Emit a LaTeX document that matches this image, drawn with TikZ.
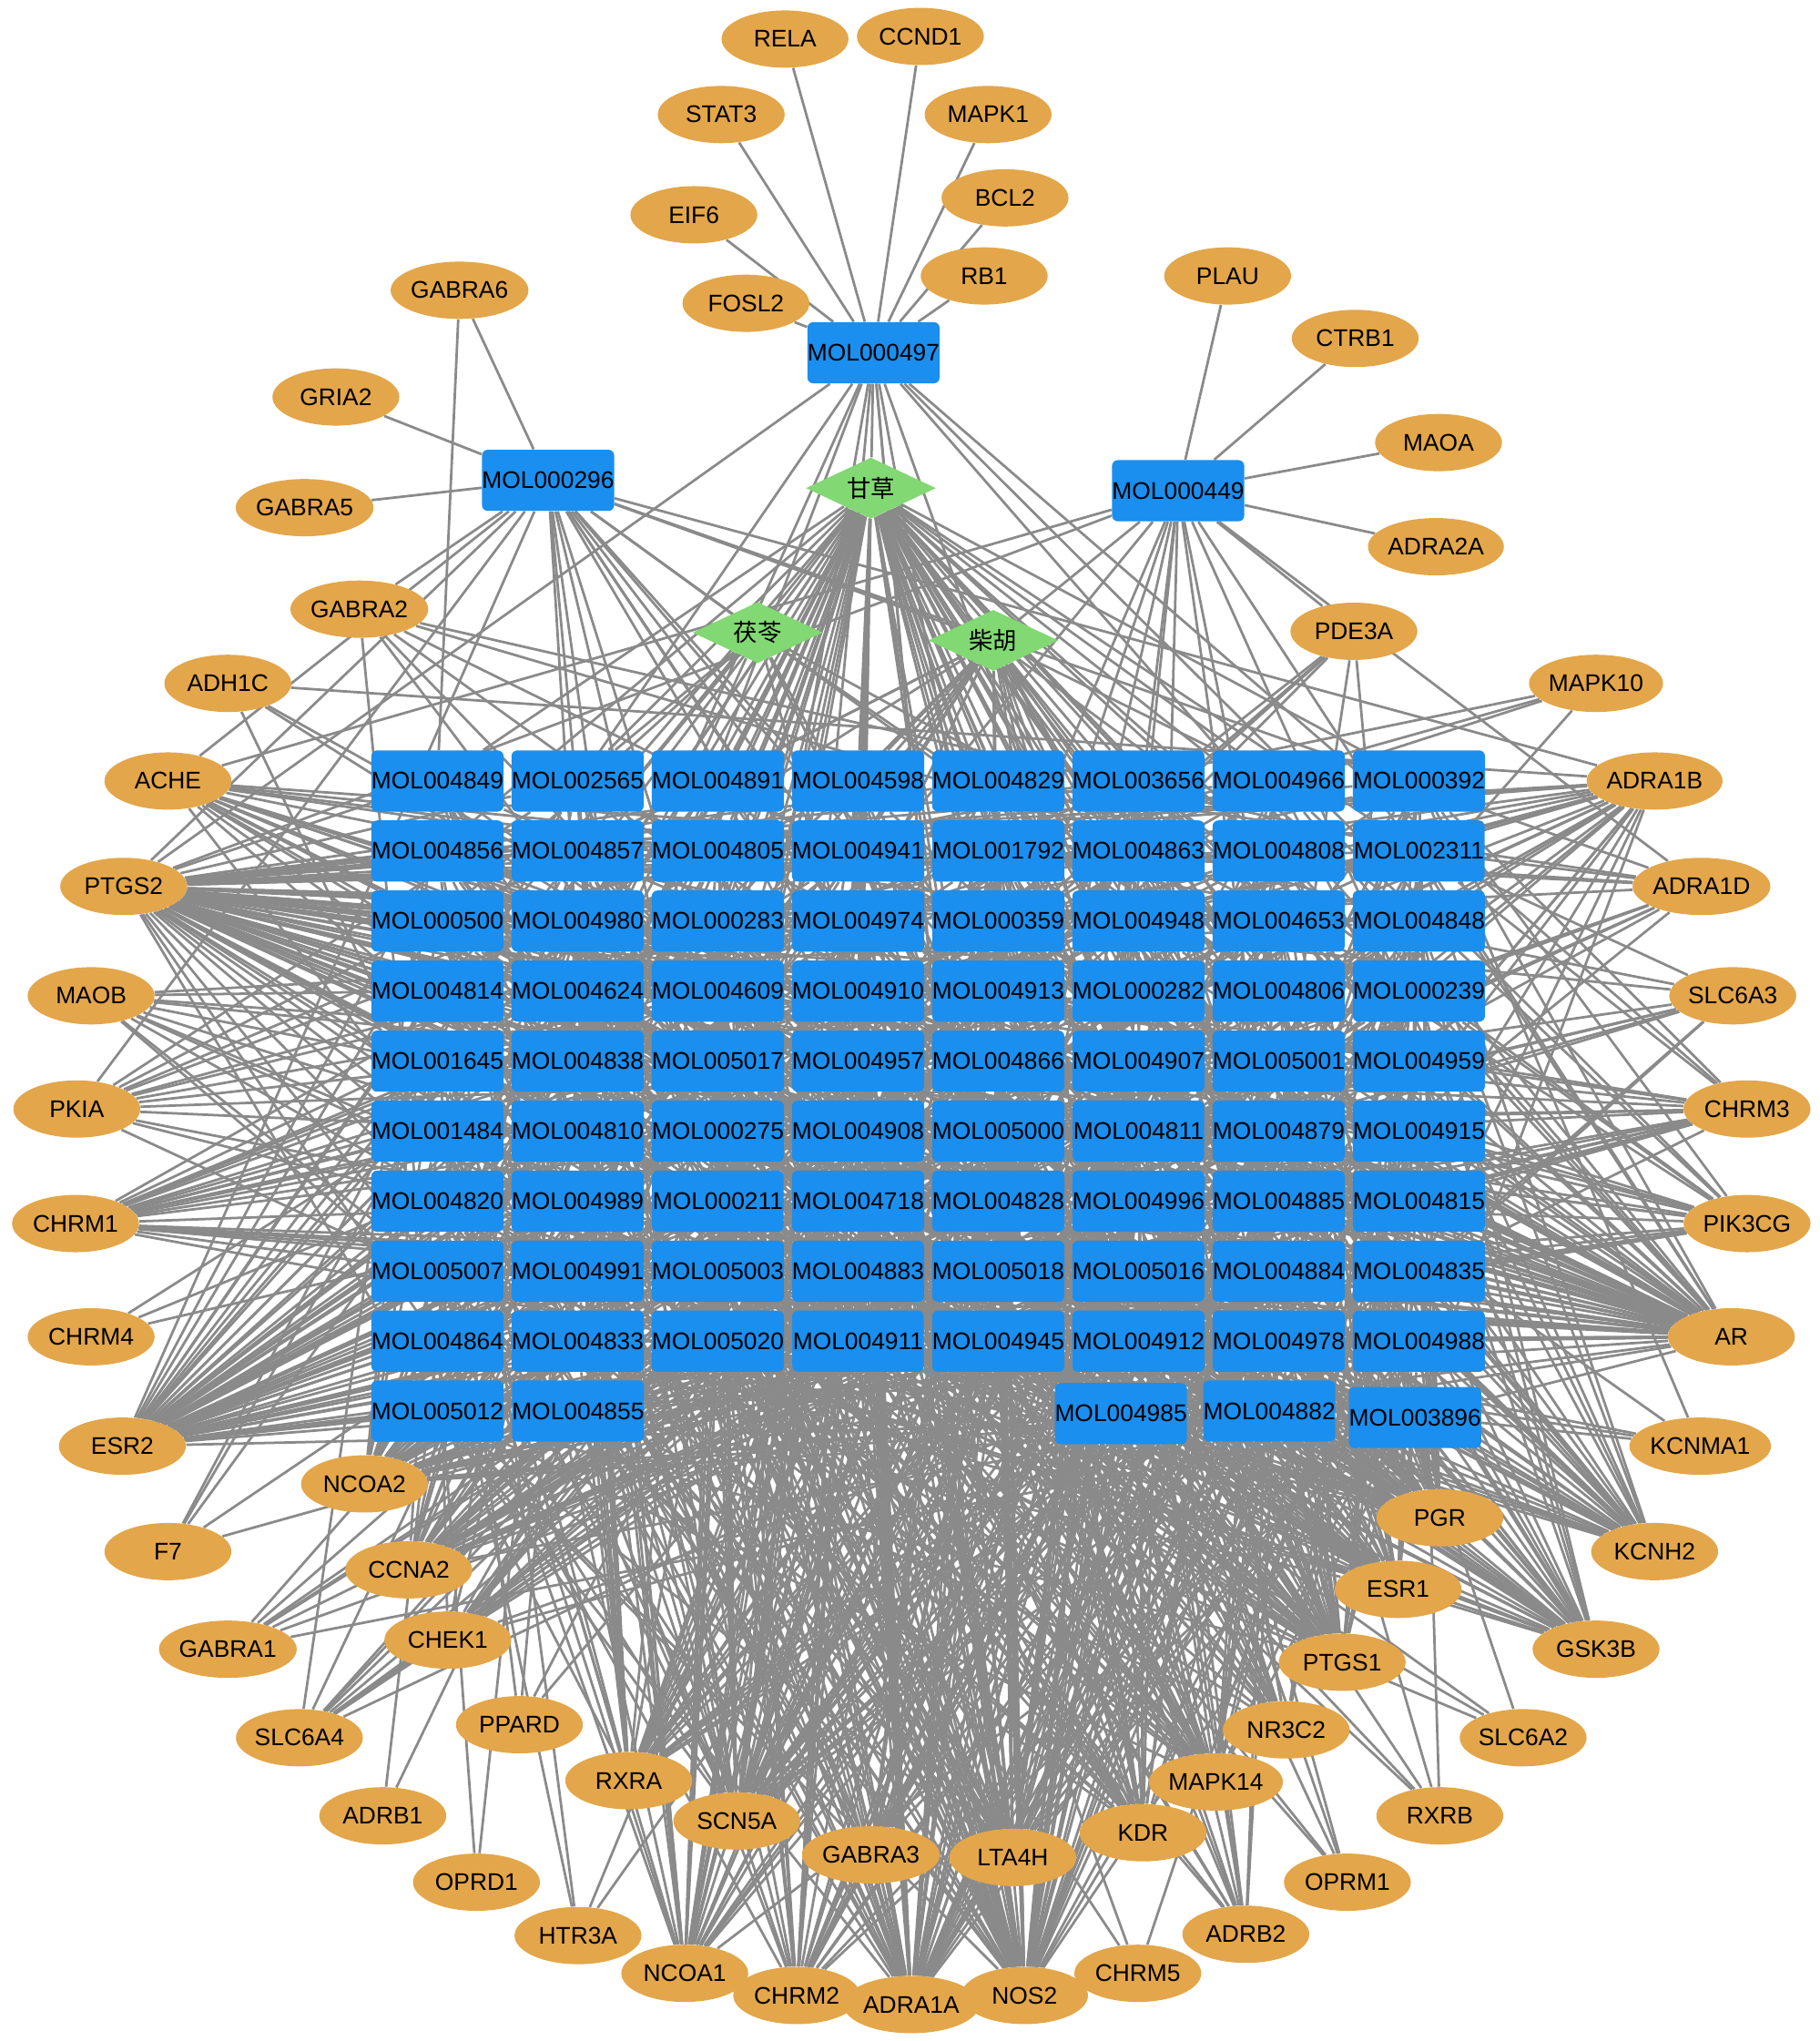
\documentclass[tikz,border=0pt]{standalone}
\usepackage{fontspec}
\setmainfont{Liberation Sans}
\newfontfamily\cjk{Noto Sans CJK SC}
\usepackage{tikz}
\usetikzlibrary{shapes.geometric,backgrounds}
\definecolor{tgtorange}{HTML}{E3A64A}
\definecolor{molblue}{HTML}{1A8FEF}
\definecolor{herbgreen}{HTML}{82D872}
\definecolor{edgegray}{HTML}{8A8A8A}

% compound grid, row by row
\def\gridrows{%
  {MOL004849,MOL002565,MOL004891,MOL004598,MOL004829,MOL003656,MOL004966,MOL000392},%
  {MOL004856,MOL004857,MOL004805,MOL004941,MOL001792,MOL004863,MOL004808,MOL002311},%
  {MOL000500,MOL004980,MOL000283,MOL004974,MOL000359,MOL004948,MOL004653,MOL004848},%
  {MOL004814,MOL004624,MOL004609,MOL004910,MOL004913,MOL000282,MOL004806,MOL000239},%
  {MOL001645,MOL004838,MOL005017,MOL004957,MOL004866,MOL004907,MOL005001,MOL004959},%
  {MOL001484,MOL004810,MOL000275,MOL004908,MOL005000,MOL004811,MOL004879,MOL004915},%
  {MOL004820,MOL004989,MOL000211,MOL004718,MOL004828,MOL004996,MOL004885,MOL004815},%
  {MOL005007,MOL004991,MOL005003,MOL004883,MOL005018,MOL005016,MOL004884,MOL004835},%
  {MOL004864,MOL004833,MOL005020,MOL004911,MOL004945,MOL004912,MOL004978,MOL004988}}
\def\extramols{MOL005012,MOL004855,MOL004985,MOL004882,MOL003896,MOL000497,MOL000296,MOL000449}
\newcommand\randlink[3]{\pgfmathsetmacro\rval{rnd}\ifdim\rval pt<#3pt\draw[link] (#1) -- (#2);\fi}

\begin{document}
\begin{tikzpicture}[x=0.02cm, y=-0.02cm,
  target/.style={ellipse, fill=tgtorange, minimum width=1.95cm, minimum height=0.88cm, inner sep=0pt, font=\fontsize{10.5}{12}\selectfont},
  mol/.style={rectangle, rounded corners=2.5pt, fill=molblue, minimum width=2.02cm, minimum height=0.94cm, inner sep=0pt, font=\fontsize{10.5}{12}\selectfont},
  herb/.style={diamond, fill=herbgreen, aspect=2.1, minimum width=2cm, minimum height=0.94cm, inner sep=0pt, font=\cjk\fontsize{10.5}{12}\selectfont},
  link/.style={draw=edgegray, line width=1.1pt}]
  \useasboundingbox (0,0) rectangle (1398,1568);

  % top hubs and herbs
  \node[mol] (MOL000497) at (671,271) {MOL000497};
  \node[mol] (MOL000296) at (421,369) {MOL000296};
  \node[mol] (MOL000449) at (905,377) {MOL000449};
  \node[herb] (gancao) at (669,375) {甘草};
  \node[herb] (fuling) at (582,486) {茯苓};
  \node[herb] (chaihu) at (763,492) {柴胡};

  % compound grid
  \foreach \row [count=\rw] in \gridrows {
    \foreach \m [count=\cl] in \row
      \node[mol] (\m) at ({228.3+107.7*\cl},{546.2+53.8*\rw}) {\m};
  }
  \node[mol] (MOL005012) at (336,1084) {MOL005012};
  \node[mol] (MOL004855) at (444,1084) {MOL004855};
  \node[mol] (MOL004985) at (861,1086) {MOL004985};
  \node[mol] (MOL004882) at (975,1084) {MOL004882};
  \node[mol] (MOL003896) at (1087,1089) {MOL003896};

  % targets, top
  \node[target] (RELA) at (603,30) {RELA};
  \node[target] (CCND1) at (707,28) {CCND1};
  \node[target] (STAT3) at (554,88) {STAT3};
  \node[target] (MAPK1) at (759,88) {MAPK1};
  \node[target] (EIF6) at (533,165) {EIF6};
  \node[target] (BCL2) at (772,152) {BCL2};
  \node[target] (RB1) at (756,212) {RB1};
  \node[target] (FOSL2) at (573,233) {FOSL2};
  \node[target] (GABRA6) at (353,223) {GABRA6};
  \node[target] (GRIA2) at (258,305) {GRIA2};
  \node[target] (GABRA5) at (234,390) {GABRA5};
  \node[target] (GABRA2) at (276,468) {GABRA2};
  \node[target] (ADH1C) at (175,525) {ADH1C};
  \node[target] (PLAU) at (943,212) {PLAU};
  \node[target] (CTRB1) at (1041,260) {CTRB1};
  \node[target] (MAOA) at (1105,340) {MAOA};
  \node[target] (ADRA2A) at (1103,420) {ADRA2A};
  \node[target] (PDE3A) at (1040,485) {PDE3A};
  \node[target] (MAPK10) at (1226,525) {MAPK10};

  % targets, outer ring
  \node[target] (ACHE) at (129,600) {ACHE};
  \node[target] (PTGS2) at (95,681) {PTGS2};
  \node[target] (MAOB) at (70,765) {MAOB};
  \node[target] (PKIA) at (59,852) {PKIA};
  \node[target] (CHRM1) at (58,940) {CHRM1};
  \node[target] (CHRM4) at (70,1027) {CHRM4};
  \node[target] (ESR2) at (94,1111) {ESR2};
  \node[target] (F7) at (129,1192) {F7};
  \node[target] (GABRA1) at (175,1267) {GABRA1};
  \node[target] (SLC6A4) at (230,1335) {SLC6A4};
  \node[target] (ADRB1) at (294,1395) {ADRB1};
  \node[target] (OPRD1) at (366,1446) {OPRD1};
  \node[target] (HTR3A) at (444,1487) {HTR3A};
  \node[target] (NCOA1) at (526,1516) {NCOA1};
  \node[target] (CHRM2) at (612,1533) {CHRM2};
  \node[target] (ADRA1A) at (700,1540) {ADRA1A};
  \node[target] (NOS2) at (787,1533) {NOS2};
  \node[target] (CHRM5) at (874,1516) {CHRM5};
  \node[target] (ADRB2) at (957,1486) {ADRB2};
  \node[target] (OPRM1) at (1035,1446) {OPRM1};
  \node[target] (RXRB) at (1106,1395) {RXRB};
  \node[target] (SLC6A2) at (1170,1335) {SLC6A2};
  \node[target] (GSK3B) at (1226,1267) {GSK3B};
  \node[target] (KCNH2) at (1271,1192) {KCNH2};
  \node[target] (KCNMA1) at (1306,1111) {KCNMA1};
  \node[target] (AR) at (1330,1027) {AR};
  \node[target] (PIK3CG) at (1342,940) {PIK3CG};
  \node[target] (CHRM3) at (1342,852) {CHRM3};
  \node[target] (SLC6A3) at (1331,765) {SLC6A3};
  \node[target] (ADRA1D) at (1307,681) {ADRA1D};
  \node[target] (ADRA1B) at (1271,600) {ADRA1B};

  % targets, inner ring
  \node[target] (NCOA2) at (280,1140) {NCOA2};
  \node[target] (CCNA2) at (314,1206) {CCNA2};
  \node[target] (CHEK1) at (344,1260) {CHEK1};
  \node[target] (PPARD) at (399,1325) {PPARD};
  \node[target] (RXRA) at (483,1368) {RXRA};
  \node[target] (SCN5A) at (566,1399) {SCN5A};
  \node[target] (GABRA3) at (669,1425) {GABRA3};
  \node[target] (LTA4H) at (778,1427) {LTA4H};
  \node[target] (KDR) at (878,1408) {KDR};
  \node[target] (MAPK14) at (934,1369) {MAPK14};
  \node[target] (NR3C2) at (988,1329) {NR3C2};
  \node[target] (PTGS1) at (1031,1277) {PTGS1};
  \node[target] (ESR1) at (1074,1221) {ESR1};
  \node[target] (PGR) at (1106,1166) {PGR};

  \begin{pgfonlayer}{background}
    \foreach \t in {RELA,CCND1,STAT3,MAPK1,EIF6,BCL2,RB1,FOSL2}
      \draw[link] (MOL000497) -- (\t);
    \foreach \t in {GABRA6,GRIA2,GABRA5,GABRA2}
      \draw[link] (MOL000296) -- (\t);
    \foreach \t in {PLAU,CTRB1,MAOA,ADRA2A,PDE3A}
      \draw[link] (MOL000449) -- (\t);
    \draw[link] (GABRA6) -- (MOL004849);
    \draw[link] (ADRB1) -- (MOL004855);
    \draw[link] (ADRB1) -- (MOL004864);
    \draw[link] (ADH1C) -- (ADRA1B);
    \draw[link] (gancao) -- (MOL000497);
    \draw[link] (fuling) -- (MOL000296);
    \draw[link] (chaihu) -- (MOL000296);
    \draw[link] (chaihu) -- (MOL000449);

    \pgfmathsetseed{11}
    % herbs to compounds
    \foreach \row in \gridrows {
      \foreach \m in \row {
        \randlink{\m}{gancao}{0.85}
        \randlink{\m}{fuling}{0.15}
        \randlink{\m}{chaihu}{0.25}
      }
    }
    \foreach \m in {MOL005012,MOL004855,MOL004985,MOL004882,MOL003896} {
      \randlink{\m}{gancao}{0.85}
      \randlink{\m}{chaihu}{0.25}
    }

    % compounds to targets
    \foreach \t/\p in {ACHE/0.28,PTGS2/0.9,MAOB/0.16,PKIA/0.12,CHRM1/0.34,CHRM4/0.03,
        ESR2/0.75,F7/0.08,GABRA1/0.07,SLC6A4/0.08,ADRB1/0.03,OPRD1/0.04,HTR3A/0.04,
        NCOA1/0.4,CHRM2/0.35,ADRA1A/0.6,NOS2/0.8,CHRM5/0.07,ADRB2/0.26,OPRM1/0.07,
        RXRB/0.05,SLC6A2/0.04,GSK3B/0.42,KCNH2/0.48,KCNMA1/0.1,AR/0.72,PIK3CG/0.34,
        CHRM3/0.2,SLC6A3/0.16,ADRA1D/0.16,ADRA1B/0.34,MAPK10/0.05,PDE3A/0.08,
        ADH1C/0.04,GABRA2/0.06,NCOA2/0.45,CCNA2/0.4,CHEK1/0.22,PPARD/0.1,RXRA/0.45,
        SCN5A/0.6,GABRA3/0.4,LTA4H/0.5,KDR/0.4,MAPK14/0.4,NR3C2/0.22,PTGS1/0.55,
        ESR1/0.55,PGR/0.55} {
      \foreach \row in \gridrows {
        \foreach \m in \row {\randlink{\m}{\t}{\p}}
      }
      \foreach \m in \extramols {\randlink{\m}{\t}{\p}}
    }
  \end{pgfonlayer}
\end{tikzpicture}
\end{document}
